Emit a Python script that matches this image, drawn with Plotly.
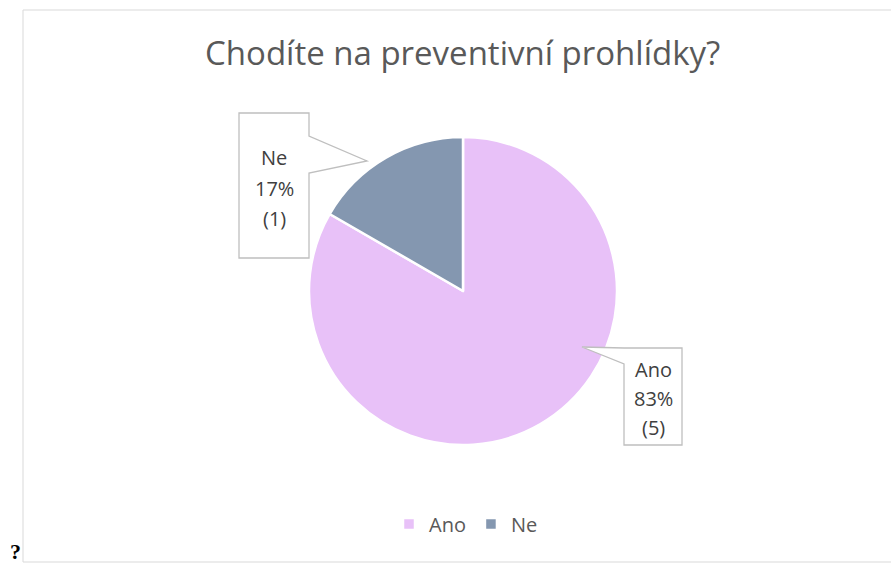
import plotly.graph_objects as go

W, H = 891, 563
categories = ["Ano", "Ne"]
values = [5, 1]
colors = ["#E8C1F8", "#8497B0"]
title = "Chodíte na preventivní prohlídky?"

total = sum(values)
pct = [round(v / total * 100) for v in values]

def px(x):
    return x / W

def py(y):
    return 1 - y / H

cx, cy, r = 463, 291, 154

fig = go.Figure(go.Pie(
    labels=categories, values=values, sort=False, direction="clockwise", rotation=0,
    marker=dict(colors=colors, line=dict(color="white", width=2.5)),
    textinfo="none", hoverinfo="label+percent+value",
    domain=dict(x=[px(cx - r), px(cx + r)], y=[py(cy + r), py(cy - r)]),
))

shapes = [
    dict(type="rect", xref="paper", yref="paper", x0=px(23), x1=px(893), y0=py(562), y1=py(10),
         line=dict(color="#D9D9D9", width=1), fillcolor="rgba(0,0,0,0)", layer="below"),
]

def callout(pts):
    path = "M " + " L ".join(f"{px(x)},{py(y)}" for x, y in pts) + " Z"
    return dict(type="path", xref="paper", yref="paper", path=path,
                line=dict(color="#BFBFBF", width=1.3), fillcolor="white")

shapes.append(callout([(239, 113), (309, 113), (309, 136), (367, 161), (309, 173), (309, 258), (239, 258)]))
shapes.append(callout([(624, 348), (682, 348), (682, 445), (624, 445), (624, 364), (582, 347)]))

annotations = [
    dict(text=title, x=px(463), y=py(52), xref="paper", yref="paper", showarrow=False,
         font=dict(family="Open Sans", size=33, color="#595959"), xanchor="center", yanchor="middle"),
    dict(text="<b>?</b>", x=px(15), y=py(551), xref="paper", yref="paper", showarrow=False,
         font=dict(family="Liberation Serif", size=22, color="black"), xanchor="center", yanchor="middle"),
]

label_pos = {"Ne": (274, [158, 188, 218]), "Ano": (653, [369, 398, 427])}
for cat, v, p in zip(categories, values, pct):
    x, ys = label_pos[cat]
    for t, y in zip([cat, f"{p}%", f"({v})"], ys):
        annotations.append(dict(text=t, x=px(x), y=py(y), xref="paper", yref="paper", showarrow=False,
                                font=dict(family="Open Sans", size=20, color="#404040"),
                                xanchor="center", yanchor="middle"))

fig.update_layout(
    width=W, height=H, margin=dict(l=0, r=0, t=0, b=0),
    paper_bgcolor="white", plot_bgcolor="white",
    showlegend=True,
    legend=dict(orientation="h", x=px(466), y=py(524), xanchor="center", yanchor="middle",
                font=dict(family="Open Sans", size=20, color="#595959"), itemwidth=30,
                traceorder="normal"),
    shapes=shapes, annotations=annotations,
)

fig.write_html("out.html")
